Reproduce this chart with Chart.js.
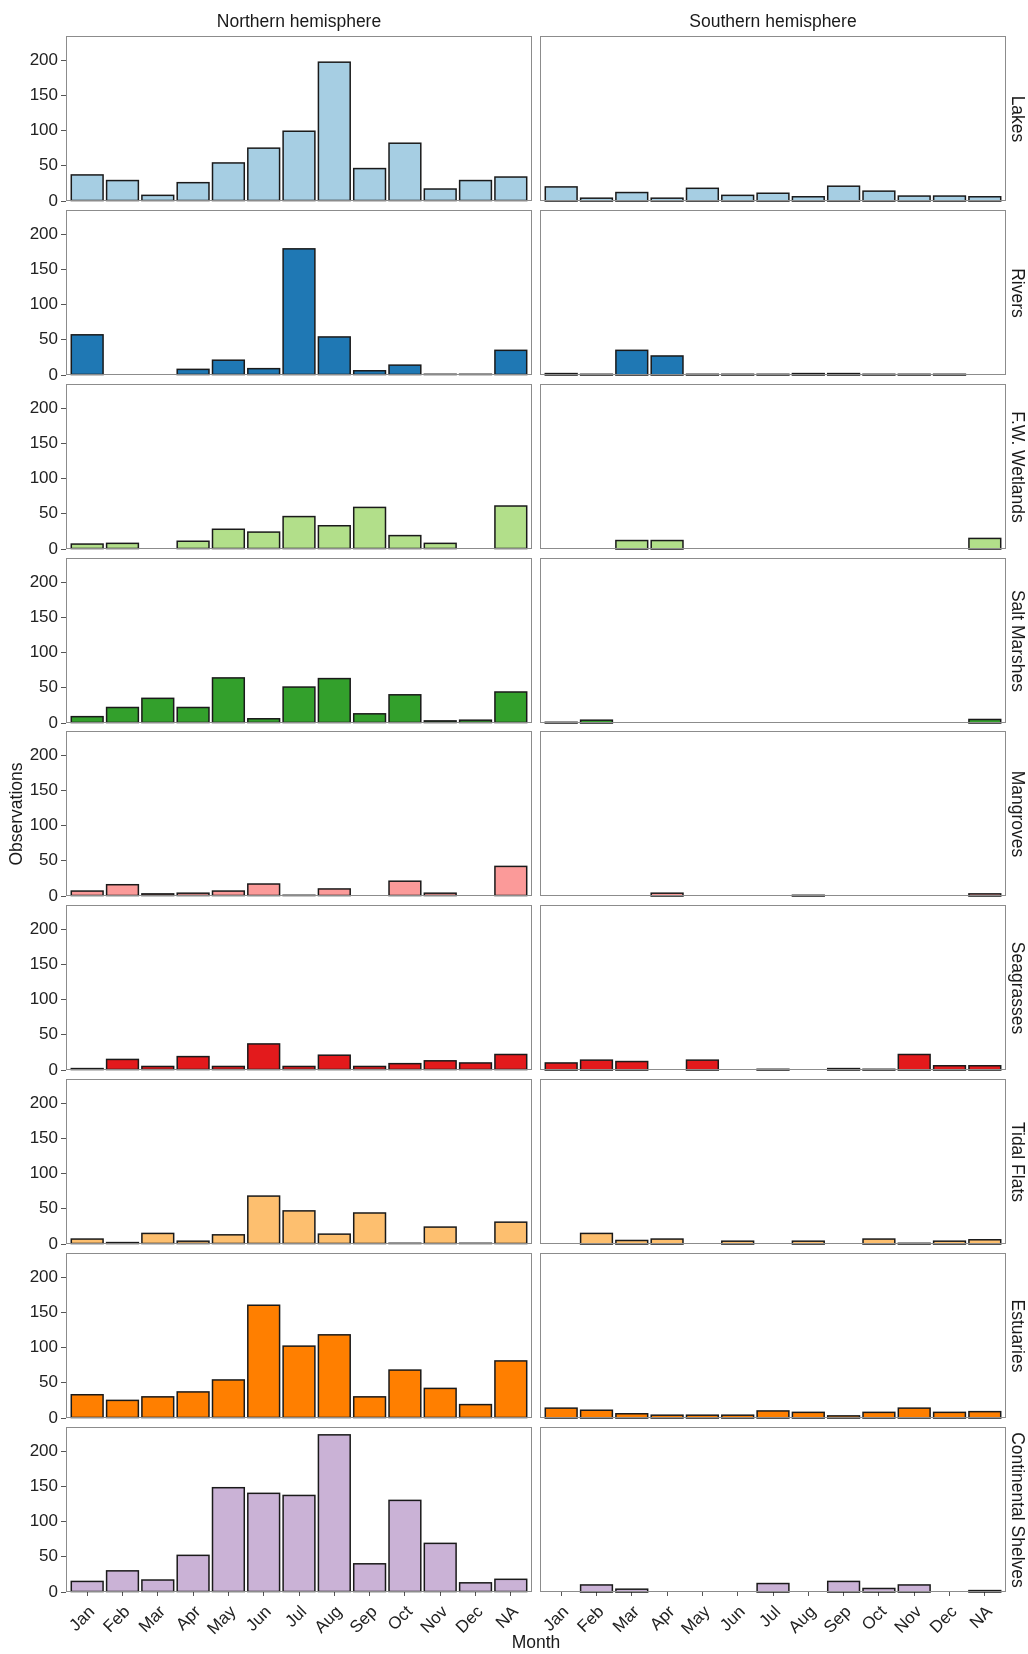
<!DOCTYPE html>
<html>
<head>
<meta charset="utf-8">
<title>Observations per month by habitat and hemisphere</title>
<script src="https://cdn.jsdelivr.net/npm/chart.js"></script>
<style>
  body { margin: 0; background: #fff; }
  #wrap { position: relative; width: 1028px; height: 1654px; overflow: hidden;
          font-family: "Liberation Sans", Arial, sans-serif; }
  #wrap canvas { position: absolute; }
  .lbl { position: absolute; white-space: nowrap; text-align: center; color: #1a1a1a; }
</style>
</head>
<body>
<div id="wrap"></div>
<script>
// categories
const months = ['Jan', 'Feb', 'Mar', 'Apr', 'May', 'Jun', 'Jul', 'Aug', 'Sep', 'Oct', 'Nov', 'Dec', 'NA'];
const habitats = ['Lakes', 'Rivers', 'F.W. Wetlands', 'Salt Marshes', 'Mangroves',
                  'Seagrasses', 'Tidal Flats', 'Estuaries', 'Continental Shelves'];
const hemispheres = ['Northern hemisphere', 'Southern hemisphere'];
const habitatColors = ['#a6cee3', '#1f78b4', '#b2df8a', '#33a02c', '#fb9a99',
                       '#e31a1c', '#fdbf6f', '#ff7f00', '#cab2d6'];
const yTicks = [0, 50, 100, 150, 200];

// observations per month (Jan..Dec, NA)
const lakesN      = [37, 29, 8, 26, 54, 75, 99, 197, 46, 82, 17, 29, 34];
const lakesS      = [20, 4, 12, 4, 18, 8, 11, 6, 21, 14, 7, 7, 6];
const riversN     = [57, 0, 0, 8, 21, 9, 179, 54, 6, 14, 1, 1, 35];
const riversS     = [2, 1, 35, 27, 1, 1, 1, 2, 2, 1, 1, 1, 0];
const wetlandsN   = [7, 8, 0, 11, 28, 24, 46, 33, 59, 19, 8, 0, 61];
const wetlandsS   = [0, 0, 12, 12, 0, 0, 0, 0, 0, 0, 0, 0, 15];
const saltN       = [9, 22, 35, 22, 64, 6, 51, 63, 13, 40, 3, 4, 44];
const saltS       = [1, 4, 0, 0, 0, 0, 0, 0, 0, 0, 0, 0, 5];
const mangrovesN  = [7, 16, 3, 4, 7, 17, 1, 10, 0, 21, 4, 0, 42];
const mangrovesS  = [0, 0, 0, 4, 0, 0, 0, 1, 0, 0, 0, 0, 3];
const seagrassN   = [2, 15, 5, 19, 5, 37, 5, 21, 5, 9, 13, 10, 22];
const seagrassS   = [10, 14, 12, 0, 14, 0, 1, 0, 2, 1, 22, 6, 6];
const tidalN      = [7, 2, 15, 4, 13, 68, 47, 14, 44, 1, 24, 1, 31];
const tidalS      = [0, 15, 5, 7, 0, 4, 0, 4, 0, 7, 1, 4, 6];
const estuariesN  = [33, 25, 30, 37, 54, 160, 102, 118, 30, 68, 42, 19, 81];
const estuariesS  = [14, 11, 6, 4, 4, 4, 10, 8, 3, 8, 14, 8, 9];
const shelvesN    = [15, 30, 17, 52, 148, 140, 137, 223, 40, 130, 69, 13, 18];
const shelvesS    = [0, 10, 4, 0, 0, 0, 12, 0, 15, 5, 10, 0, 2];

const north = [lakesN, riversN, wetlandsN, saltN, mangrovesN, seagrassN, tidalN, estuariesN, shelvesN];
const south = [lakesS, riversS, wetlandsS, saltS, mangrovesS, seagrassS, tidalS, estuariesS, shelvesS];

// facet layout
const FONT = '"Liberation Sans", Arial, sans-serif';
const panelLeft = [66, 540];
const panelW = 466, panelH = 165;
const firstTop = 36, rowStep = 173.85;
const yMax = Math.max(...north.flat(), ...south.flat()) * 1.05;

const wrap = document.getElementById('wrap');

// black outline centred on each bar edge (ggplot style), then the grey panel border
const outlines = {
  id: 'outlines',
  afterDatasetsDraw(chart) {
    const a = chart.chartArea, ctx = chart.ctx;
    const points = chart.data.datasets[0].data;
    ctx.save();
    ctx.strokeStyle = '#1a1a1a';
    ctx.lineWidth = 1.5;
    chart.getDatasetMeta(0).data.forEach((bar, i) => {
      if (points[i].y == null) return;
      const p = bar.getProps(['x', 'y', 'base', 'width'], true);
      ctx.strokeRect(p.x - p.width / 2, p.y, p.width, p.base - p.y);
    });
    ctx.strokeStyle = '#8c8c8c';
    ctx.lineWidth = 1;
    ctx.strokeRect(a.left + 0.5, a.top + 0.5, a.right - a.left - 1, a.bottom - a.top - 1);
    ctx.restore();
  }
};

function addLabel(text, cx, cy, size, rotate, width) {
  const d = document.createElement('div');
  d.className = 'lbl';
  d.textContent = text;
  d.style.fontSize = size + 'px';
  d.style.lineHeight = '24px';
  d.style.width = width + 'px';
  d.style.left = (cx - width / 2) + 'px';
  d.style.top = (cy - 12) + 'px';
  if (rotate) d.style.transform = 'rotate(' + rotate + 'deg)';
  wrap.appendChild(d);
}

habitats.forEach((habitat, r) => {
  const top = Math.round(firstTop + r * rowStep);
  const last = r === habitats.length - 1;
  [north[r], south[r]].forEach((values, c) => {
    const padL = c === 0 ? 66 : 30, padR = 6, padT = 10;
    const padB = last ? 62 : 12;
    const cv = document.createElement('canvas');
    cv.width = padL + panelW + padR;
    cv.height = padT + panelH + padB;
    cv.style.left = (panelLeft[c] - padL) + 'px';
    cv.style.top = (top - padT) + 'px';
    wrap.appendChild(cv);

    new Chart(cv, {
      type: 'bar',
      data: {
        datasets: [{
          data: values.map((v, i) => ({ x: i, y: v === 0 ? null : v })),
          backgroundColor: habitatColors[r],
          borderWidth: 0,
          inflateAmount: 0,
          barPercentage: 0.9,
          categoryPercentage: 1
        }]
      },
      options: {
        responsive: false,
        animation: false,
        events: [],
        layout: { padding: { top: padT, right: padR, bottom: last ? 0 : padB, left: c === 0 ? 0 : padL } },
        plugins: { legend: { display: false }, tooltip: { enabled: false } },
        scales: {
          x: {
            type: 'linear',
            offset: false,
            min: -0.6,
            max: months.length - 0.4,
            display: last,
            afterBuildTicks: s => { s.ticks = months.map((m, i) => ({ value: i })); },
            afterFit: s => {
              if (last) s.height = padB;
              s.paddingLeft = 0;
              s.paddingRight = 0;
            },
            ticks: {
              callback: v => months[v],
              autoSkip: false,
              minRotation: 45,
              maxRotation: 45,
              padding: 6,
              labelOffset: 5,
              color: '#222',
              font: { family: FONT, size: 17 }
            },
            grid: { offset: false, drawOnChartArea: false, tickLength: 4, color: '#555' },
            border: { display: false }
          },
          y: {
            type: 'linear',
            min: 0,
            max: yMax,
            display: c === 0,
            afterBuildTicks: s => { s.ticks = yTicks.map(v => ({ value: v })); },
            afterFit: s => {
              if (c === 0) s.width = padL;
              s.paddingTop = 0;
              s.paddingBottom = 0;
            },
            ticks: { padding: 3, color: '#222', font: { family: FONT, size: 17 } },
            grid: { drawOnChartArea: false, tickLength: 5, color: '#555' },
            border: { display: false }
          }
        }
      },
      plugins: [outlines]
    });
  });
  // facet strip on the right
  addLabel(habitat, 1018, top + panelH / 2, 17.5, 90, 260);
});

// column strips and axis titles
hemispheres.forEach((h, c) => addLabel(h, panelLeft[c] + panelW / 2, 21, 17.5, 0, panelW));
addLabel('Observations', 16, (firstTop + Math.round(firstTop + 8 * rowStep) + panelH) / 2, 17.5, -90, 300);
addLabel('Month', (panelLeft[0] + panelLeft[1] + panelW) / 2, 1642, 17.5, 0, 200);
</script>
</body>
</html>
